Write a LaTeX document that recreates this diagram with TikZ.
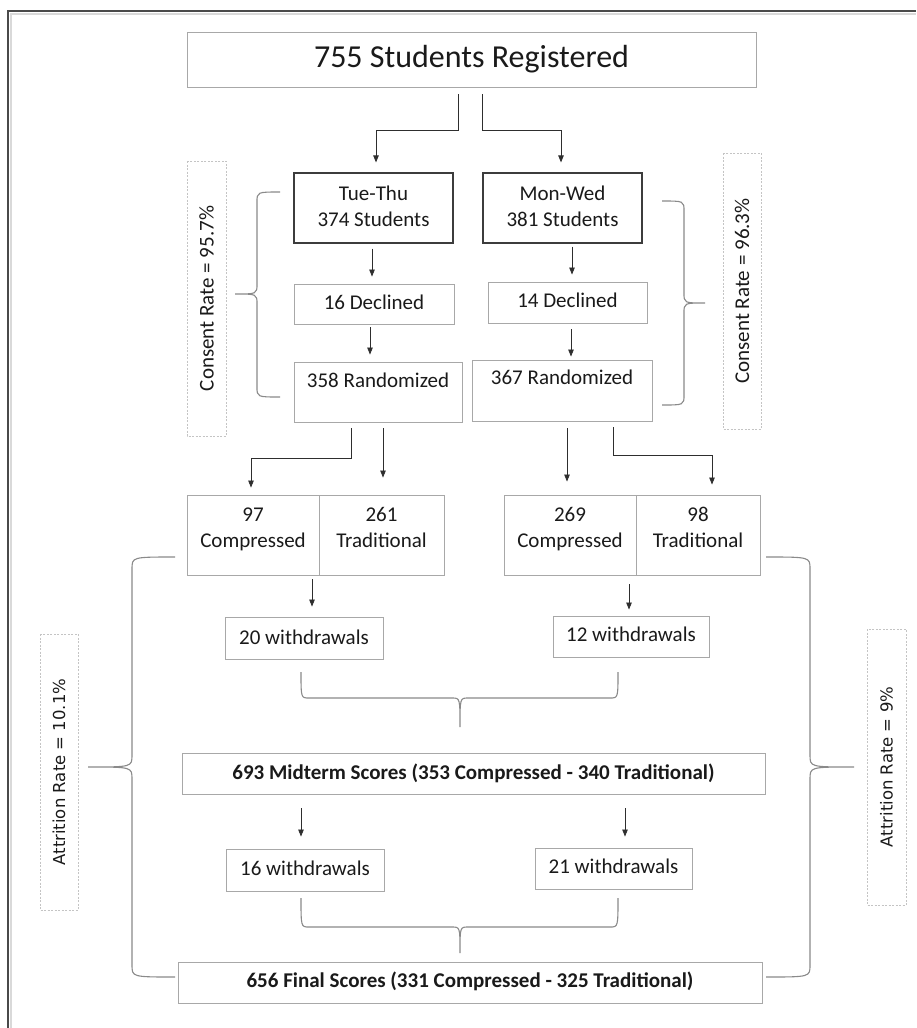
\documentclass[tikz,border=0pt]{standalone}
\usepackage{fontspec}
\setmainfont{Carlito}
\newfontfamily\verd{DejaVu Sans}
\usetikzlibrary{calc,arrows.meta}
\definecolor{boxc}{HTML}{A8A8A8}
\definecolor{darkc}{HTML}{3C3C3C}
\definecolor{txt}{HTML}{1A1A1A}
\definecolor{arrc}{HTML}{2E2E2E}
\definecolor{brc}{HTML}{8A8A8A}
\definecolor{dashc}{HTML}{C4C4C4}
\definecolor{framec}{HTML}{4A4A4A}
\newcommand\twol[2]{\begin{tabular}[b]{@{}c@{}}#1\\#2\end{tabular}}
\newcommand\rb[2]{\raisebox{#1}[0pt][0pt]{#2}}
\newcommand\myvbrace[7]{\draw[brace] (#1,#4) .. controls (#2,#4) .. (#2,#4+#7) -- (#2,#5-#7) .. controls (#2,#5) .. (#3,#5) .. controls (#2,#5) .. (#2,#5+#7) -- (#2,#6-#7) .. controls (#2,#6) .. (#1,#6);}
\newcommand\myhbrace[7]{\draw[brace] (#1,#4) .. controls (#1,#5) .. (#1+#7,#5) -- (#3-#7,#5) .. controls (#3,#5) .. (#3,#6) .. controls (#3,#5) .. (#3+#7,#5) -- (#2-#7,#5) .. controls (#2,#5) .. (#2,#4);}
\tikzset{
  bx/.style={draw=boxc, line width=0.9pt, inner sep=0pt, text=txt, font=\fontsize{21}{26}\selectfont},
  bxd/.style={bx, draw=darkc, line width=1.2pt},
  dbox/.style={draw=dashc, dash pattern=on 2pt off 1.5pt, line width=0.8pt, inner sep=0pt, rotate=90, minimum width=276pt, minimum height=38pt, text=txt},
  arr/.style={draw=arrc, line width=0.8pt, -{Triangle[length=7pt,width=5.5pt]}},
  brace/.style={draw=brc, line width=1.1pt}
}
\begin{document}
\begin{tikzpicture}[x=1pt,y=-1pt]
\fill[white] (0,0) rectangle (916,1028);
\useasboundingbox (0,0) rectangle (916,1028);
% frame
\draw[gray!30, line width=2pt] (10,13.5) -- (916,13.5);
\draw[gray!30, line width=2pt] (10.5,13) -- (10.5,1028);
\draw[framec, line width=1.6pt] (8,11) -- (916,11);
\draw[framec, line width=1.6pt] (8,10.2) -- (8,1028);

% boxes
\node[bx, minimum width=569pt, minimum height=55pt, font=\fontsize{32}{38}\selectfont] (top) at (471.5,59.5) {\rb{-8.3pt}{755 Students Registered}};
\node[bxd, minimum width=159pt, minimum height=70pt] (tt) at (373.5,208) {\rb{-18pt}{\twol{Tue-Thu}{374 Students}}};
\node[bxd, minimum width=159pt, minimum height=70pt] (mw) at (562.5,208) {\rb{-18pt}{\twol{Mon-Wed}{381 Students}}};
\node[bx, minimum width=160pt, minimum height=40pt] (d16) at (374,304) {\rb{-5pt}{16 Declined}};
\node[bx, minimum width=159pt, minimum height=41pt] (d14) at (567.5,302.5) {\rb{-5.3pt}{14 Declined}};
\node[bx, minimum width=168pt, minimum height=60pt] (r358) at (378,392) {\rb{5pt}{358 Randomized}};
\node[bx, minimum width=180pt, minimum height=61pt] (r367) at (562,390.5) {\rb{5.7pt}{367 Randomized}};
\node[bx, minimum width=132pt, minimum height=80pt] (c97) at (253,535) {\rb{-12pt}{\twol{97}{Compressed}}};
\node[bx, minimum width=125pt, minimum height=80pt] (t261) at (381.5,535) {\rb{-12pt}{\twol{261}{Traditional}}};
\node[bx, minimum width=132pt, minimum height=80pt] (c269) at (570,535) {\rb{-12pt}{\twol{269}{Compressed}}};
\node[bx, minimum width=124pt, minimum height=80pt] (t98) at (698,535) {\rb{-12pt}{\twol{98}{Traditional}}};
\node[bx, minimum width=158pt, minimum height=42pt] (w20) at (304,638) {\rb{-6pt}{20 withdrawals}};
\node[bx, minimum width=156pt, minimum height=41pt] (w12) at (631,636.5) {\rb{-5.3pt}{12 withdrawals}};
\node[bx, minimum width=583pt, minimum height=41pt, font=\fontsize{21}{26}\selectfont\bfseries] (mid) at (473.5,773.5) {\rb{-6pt}{693 Midterm Scores (353 Compressed - 340 Traditional)}};
\node[bx, minimum width=158pt, minimum height=42pt] (w16) at (305,870) {\rb{-5pt}{16 withdrawals}};
\node[bx, minimum width=157pt, minimum height=41pt] (w21) at (613.5,868.5) {\rb{-5.3pt}{21 withdrawals}};
\node[bx, minimum width=584pt, minimum height=41pt, font=\fontsize{21}{26}\selectfont\bfseries] (fin) at (470,982.5) {\rb{-5.3pt}{656 Final Scores (331 Compressed - 325 Traditional)}};

% rate boxes
\node[dbox, minimum width=275pt, minimum height=39pt, font=\fontsize{21}{26}\selectfont] (crl) at (206.5,298.5) {Consent Rate = 95.7\%};
\node[dbox, minimum width=276pt, minimum height=38pt, font=\fontsize{21}{26}\selectfont] (crr) at (742,291) {Consent Rate = 96.3\%};
\node[dbox, minimum width=276pt, minimum height=38pt, font=\verd\fontsize{16.5}{20}\selectfont] (arl) at (59,772) {Attrition Rate = 10.1\%};
\node[dbox, minimum width=276pt, minimum height=39pt, font=\verd\fontsize{16.5}{20}\selectfont] (arr) at (886.5,767) {Attrition Rate = 9\%};

% connectors
\draw[arr] ($(top.south)+(-13.5,7)$) -- ++(0,36) -| ($(tt.north)+(2.5,-10)$);
\draw[arr] ($(top.south)+(10.5,7)$) -- ++(0,36) -| ($(mw.north)+(-1.5,-10)$);
\draw[arr] ($(tt.south)+(-1.5,5)$) -- ($(d16.north)+(-2,-7)$);
\draw[arr] ($(mw.south)+(9.5,3)$) -- ($(d14.north)+(4.5,-7)$);
\draw[arr] ($(d16.south)+(-4,3)$) -- ($(r358.north)+(-8,-7)$);
\draw[arr] ($(d14.south)+(3.5,6)$) -- ($(r367.north)+(9,-3)$);
\draw[arr] ($(r358.south)+(-27,6)$) -- ++(0,30) -| ($(c97.north)+(-2,-7)$);
\draw[arr] ($(r358.south)+(5,6)$) -- ($(t261.north)+(1.5,-17)$);
\draw[arr] ($(r367.south)+(5,7)$) -- ($(c269.north)+(-3,-13)$);
\draw[arr] ($(r367.south)+(51,6)$) -- ++(0,28) -| ($(t98.north)+(14,-10)$);
\draw[arr] ($(c97.south)+(59,4)$) -- ($(w20.north)+(8,-10)$);
\draw[arr] ($(c269.south)+(59,9)$) -- ($(w12.north)+(-2,-6)$);
\draw[arr] ($(mid.south)+(-172.5,14)$) -- ($(w16.north)+(-4,-12)$);
\draw[arr] ($(mid.south)+(151.5,14)$) -- ($(w21.north)+(11.5,-11)$);

% braces
\myvbrace{280}{257}{235}{192}{294}{397}{10}
\myvbrace{662}{684}{705}{201}{303}{405}{10}
\myvbrace{175}{132}{88}{557}{767}{977}{12}
\myvbrace{766}{810}{854}{557}{767}{977}{12}
\myhbrace{301}{618}{460}{672}{698}{727}{8}
\myhbrace{301}{618}{460}{898}{927}{953}{8}
\end{tikzpicture}
\end{document}
